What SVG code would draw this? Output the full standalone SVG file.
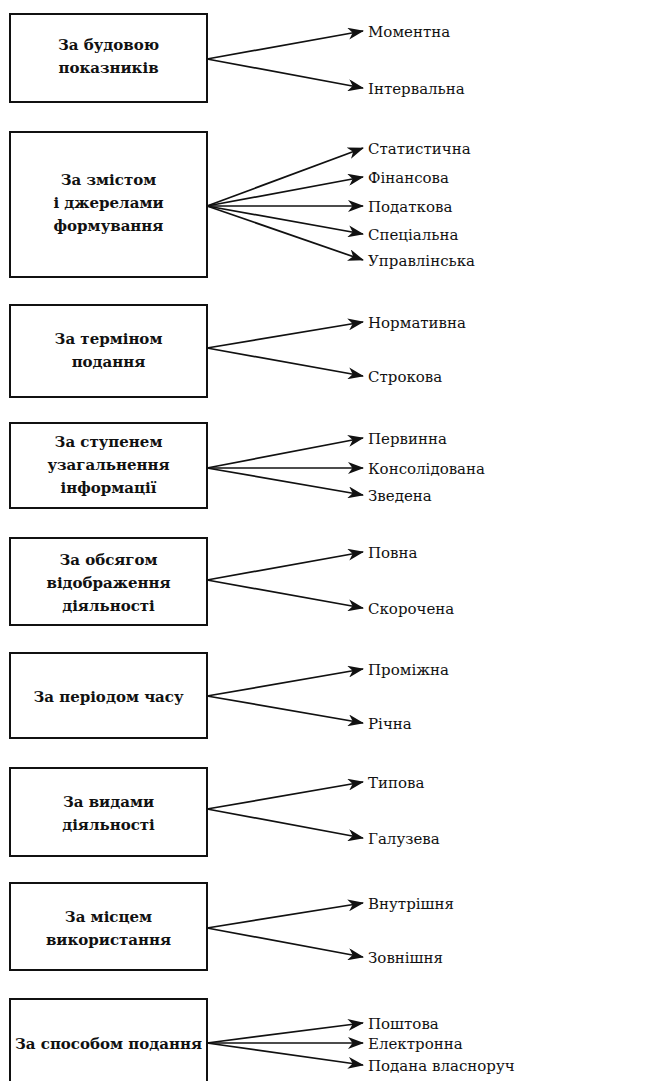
<svg xmlns="http://www.w3.org/2000/svg" width="646" height="1081" viewBox="0 0 646 1081">
  <style>
    .box { fill: #fff; stroke: #111; stroke-width: 2; }
    .lbl { font-family: "DejaVu Serif", "Liberation Serif", serif; font-size: 15px; font-weight: bold; fill: #111; text-anchor: middle; }
    .item { font-family: "DejaVu Serif", "Liberation Serif", serif; font-size: 15px; fill: #111; }
    .arr { stroke: #111; stroke-width: 1.7; fill: none; marker-end: url(#head); }
  </style>
  <defs>
    <marker id="head" viewBox="0 0 16 12" refX="15" refY="6" markerWidth="16" markerHeight="12" markerUnits="userSpaceOnUse" orient="auto">
      <path d="M0,0 L16,6 L0,12 L4.5,6 z" fill="#111"/>
    </marker>
  </defs>

  <rect width="646" height="1081" fill="#fff"/>

  <g id="node-structure">
    <rect class="box" x="10" y="14" width="197" height="88"/>
    <text class="lbl" x="108.5" y="50">За будовою</text>
    <text class="lbl" x="108.5" y="73">показників</text>
  </g>
  <g id="node-content">
    <rect class="box" x="10" y="132" width="197" height="145"/>
    <text class="lbl" x="108.5" y="185">За змістом</text>
    <text class="lbl" x="108.5" y="208">і джерелами</text>
    <text class="lbl" x="108.5" y="231">формування</text>
  </g>
  <g id="node-term">
    <rect class="box" x="10" y="305" width="197" height="92"/>
    <text class="lbl" x="108.5" y="344">За терміном</text>
    <text class="lbl" x="108.5" y="367">подання</text>
  </g>
  <g id="node-generalization">
    <rect class="box" x="10" y="423" width="197" height="85"/>
    <text class="lbl" x="108.5" y="447">За ступенем</text>
    <text class="lbl" x="108.5" y="470">узагальнення</text>
    <text class="lbl" x="108.5" y="493">інформації</text>
  </g>
  <g id="node-volume">
    <rect class="box" x="10" y="538" width="197" height="87"/>
    <text class="lbl" x="108.5" y="565">За обсягом</text>
    <text class="lbl" x="108.5" y="588">відображення</text>
    <text class="lbl" x="108.5" y="611">діяльності</text>
  </g>
  <g id="node-period">
    <rect class="box" x="10" y="653" width="197" height="85"/>
    <text class="lbl" x="108.5" y="702">За періодом часу</text>
  </g>
  <g id="node-activity">
    <rect class="box" x="10" y="768" width="197" height="88"/>
    <text class="lbl" x="108.5" y="807">За видами</text>
    <text class="lbl" x="108.5" y="830">діяльності</text>
  </g>
  <g id="node-place">
    <rect class="box" x="10" y="883" width="197" height="87"/>
    <text class="lbl" x="108.5" y="922">За місцем</text>
    <text class="lbl" x="108.5" y="945">використання</text>
  </g>
  <g id="node-method">
    <rect class="box" x="10" y="999" width="197" height="95"/>
    <text class="lbl" x="108.5" y="1049">За способом подання</text>
  </g>

  <g id="connectors">
    <line class="arr" x1="207" y1="59" x2="363" y2="31"/>
    <line class="arr" x1="207" y1="59" x2="363" y2="88"/>

    <line class="arr" x1="207" y1="206" x2="363" y2="148"/>
    <line class="arr" x1="207" y1="206" x2="363" y2="177"/>
    <line class="arr" x1="207" y1="206" x2="363" y2="206"/>
    <line class="arr" x1="207" y1="206" x2="363" y2="234"/>
    <line class="arr" x1="207" y1="206" x2="363" y2="260"/>

    <line class="arr" x1="207" y1="348" x2="363" y2="322"/>
    <line class="arr" x1="207" y1="348" x2="363" y2="376"/>

    <line class="arr" x1="207" y1="468" x2="363" y2="438"/>
    <line class="arr" x1="207" y1="468" x2="363" y2="468"/>
    <line class="arr" x1="207" y1="468" x2="363" y2="495"/>

    <line class="arr" x1="207" y1="580" x2="363" y2="552"/>
    <line class="arr" x1="207" y1="580" x2="363" y2="608"/>

    <line class="arr" x1="207" y1="696" x2="363" y2="669"/>
    <line class="arr" x1="207" y1="696" x2="363" y2="723"/>

    <line class="arr" x1="207" y1="809" x2="363" y2="782"/>
    <line class="arr" x1="207" y1="809" x2="363" y2="838"/>

    <line class="arr" x1="207" y1="928" x2="363" y2="903"/>
    <line class="arr" x1="207" y1="928" x2="363" y2="957"/>

    <line class="arr" x1="207" y1="1043" x2="363" y2="1023"/>
    <line class="arr" x1="207" y1="1043" x2="363" y2="1043"/>
    <line class="arr" x1="207" y1="1043" x2="363" y2="1065"/>
  </g>

  <g id="items">
    <text class="item" x="368" y="37">Моментна</text>
    <text class="item" x="368" y="94">Інтервальна</text>

    <text class="item" x="368" y="154">Статистична</text>
    <text class="item" x="368" y="183">Фінансова</text>
    <text class="item" x="368" y="212">Податкова</text>
    <text class="item" x="368" y="240">Спеціальна</text>
    <text class="item" x="368" y="266">Управлінська</text>

    <text class="item" x="368" y="328">Нормативна</text>
    <text class="item" x="368" y="382">Строкова</text>

    <text class="item" x="368" y="444">Первинна</text>
    <text class="item" x="368" y="474">Консолідована</text>
    <text class="item" x="368" y="501">Зведена</text>

    <text class="item" x="368" y="558">Повна</text>
    <text class="item" x="368" y="614">Скорочена</text>

    <text class="item" x="368" y="675">Проміжна</text>
    <text class="item" x="368" y="729">Річна</text>

    <text class="item" x="368" y="788">Типова</text>
    <text class="item" x="368" y="844">Галузева</text>

    <text class="item" x="368" y="909">Внутрішня</text>
    <text class="item" x="368" y="963">Зовнішня</text>

    <text class="item" x="368" y="1029">Поштова</text>
    <text class="item" x="368" y="1049">Електронна</text>
    <text class="item" x="368" y="1071">Подана власноруч</text>
  </g>
</svg>
